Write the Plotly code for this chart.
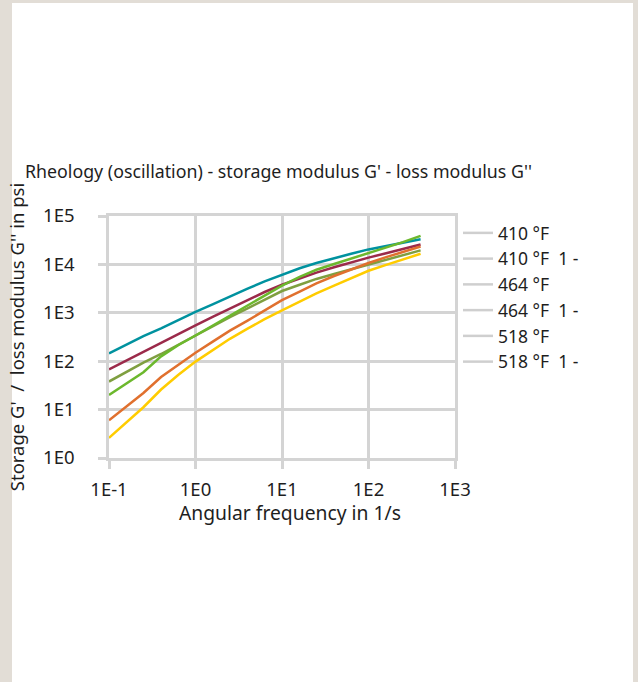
import plotly.graph_objects as go

# Angular frequency in 1/s
freq = [0.1, 0.25, 0.4, 0.63, 1, 1.6, 2.5, 4, 6.3, 10, 16, 25, 40, 63, 100, 160, 250, 400]

# Storage / loss modulus values in psi
teal = [145, 331, 479, 708, 1050, 1510, 2190, 3160, 4470, 6170, 8320, 10700, 13500, 16600, 20400, 24000, 28200, 33100]
maroon = [68, 158, 240, 363, 550, 832, 1230, 1820, 2690, 3800, 5130, 6760, 8710, 11000, 13800, 17000, 20900, 25700]
olive = [38, 93, 141, 219, 339, 525, 813, 1230, 1860, 2820, 3800, 5010, 6310, 7940, 10000, 12600, 15500, 19500]
green = [20, 59, 126, 214, 340, 550, 890, 1410, 2290, 3630, 5500, 7760, 10200, 13200, 16600, 21900, 28800, 38900]
orange = [6.0, 22, 47, 85, 150, 257, 427, 690, 1120, 1820, 2750, 4070, 5750, 7940, 10700, 14100, 18200, 23400]
yellow = [2.6, 11.2, 26, 52, 98, 170, 290, 470, 740, 1120, 1700, 2510, 3630, 5250, 7400, 9800, 12900, 16600]

series = [teal, maroon, olive, green, orange, yellow]
colors = ["#00929f", "#9b2a4a", "#7f9f40", "#6cb82d", "#e0702e", "#ffcc00"]

legend_names = ["410 °F", "410 °F\u00a0\u00a01 -", "464 °F", "464 °F\u00a0\u00a01 -", "518 °F", "518 °F\u00a0\u00a01 -"]

x_ticks = [0.1, 1, 10, 100, 1000]
x_ticktext = ["1E-1", "1E0", "1E1", "1E2", "1E3"]
y_ticks = [1, 10, 100, 1000, 10000, 100000]
y_ticktext = ["1E0", "1E1", "1E2", "1E3", "1E4", "1E5"]

FONT = "Noto Sans"
TXT = "#1e1e1e"
GRID = "#d4d4d4"
W, H = 638, 682
ML, MR, MT, MB = 109, 183, 216, 224
PW, PH = W - ML - MR, H - MT - MB

fig = go.Figure()
for vals, col in zip(series, colors):
    fig.add_trace(go.Scatter(x=freq, y=vals, mode="lines",
                             line=dict(color=col, width=2.5),
                             showlegend=False, hoverinfo="skip"))
for name in legend_names:
    fig.add_trace(go.Scatter(x=[None], y=[None], mode="lines", name=name,
                             line=dict(color="#cfcfcf", width=2.5)))

def px_x(p):
    return (p - ML) / PW

def px_y(p):
    return 1 - (p - MT) / PH

fig.add_shape(type="rect", xref="paper", yref="paper", layer="below",
              x0=px_x(12), x1=px_x(633), y0=px_y(H + 5), y1=px_y(3),
              fillcolor="white", line=dict(width=0))

fig.add_annotation(text="Angular frequency in 1/s", xref="paper", yref="paper",
                   x=px_x(290), y=px_y(512), xanchor="center", yanchor="middle",
                   showarrow=False, font=dict(family=FONT, size=19.3, color=TXT))

axis_common = dict(type="log", showgrid=True, gridcolor=GRID, gridwidth=2.5,
                   ticks="outside", ticklen=8, tickwidth=2.5, tickcolor=GRID,
                   zeroline=False, showline=True, mirror=True,
                   linecolor=GRID, linewidth=2.5,
                   tickfont=dict(family=FONT, size=18.5, color=TXT))

fig.update_layout(
    width=W, height=H,
    margin=dict(l=ML, r=MR, t=MT, b=MB),
    paper_bgcolor="#e2ddd6",
    plot_bgcolor="rgba(0,0,0,0)",
    font=dict(family=FONT, size=17, color=TXT),
    title=dict(text="Rheology (oscillation) - storage modulus G' - loss modulus G''",
               xref="container", yref="container", x=25 / W, xanchor="left",
               y=1 - 172 / H, yanchor="middle",
               font=dict(family=FONT, size=17.8, color=TXT)),
    showlegend=True,
    legend=dict(x=px_x(458), xanchor="left", y=px_y(215), yanchor="top",
                bgcolor="rgba(0,0,0,0)", font=dict(family=FONT, size=17.5, color=TXT),
                tracegroupgap=0, itemwidth=30),
    xaxis=dict(axis_common, range=[-1, 3], tickvals=x_ticks, ticktext=x_ticktext,
               ticklabelstandoff=5),
    yaxis=dict(axis_common, range=[0, 5], tickvals=y_ticks, ticktext=y_ticktext,
               ticklabelstandoff=20,
               title=dict(text="Storage G'\u00a0\u00a0/\u00a0\u00a0loss modulus G'' in psi", standoff=14,
                          font=dict(family=FONT, size=18.5, color=TXT))),
)

fig.write_html("out.html", config={"displayModeBar": False},
               post_script="document.body.style.margin='0px';")
